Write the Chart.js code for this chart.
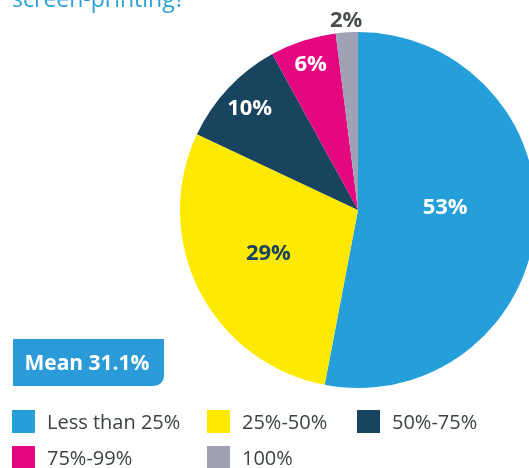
<!DOCTYPE html>
<html>
<head>
<meta charset="utf-8">
<script src="https://cdn.jsdelivr.net/npm/chart.js@4"></script>
<style>
  html, body { margin: 0; padding: 0; background: #fff; overflow: hidden; width: 529px; height: 468px; }
  #wrap { position: absolute; left: 0; top: 0; width: 560px; height: 468px; }
</style>
</head>
<body>
<div id="wrap"><canvas id="pie" width="560" height="468"></canvas></div>
<script>
'use strict';

var labels = ['Less than 25%', '25%-50%', '50%-75%', '75%-99%', '100%'];
var values = [53, 29, 10, 6, 2];
var colors = ['#249fda', '#fdea00', '#19445f', '#e4077f', '#9ea2b4'];
var title = 'screen-printing?';
var meanText = 'Mean 31.1%';

// where each percent sits on its slice: fraction of radius, angle nudge (deg), colour
var labelRadius = [0.49, 0.56, 0.835, 0.86, 1.066];
var labelNudge = [-7, 1, 0, 0, 0];
var labelColor = ['#fff', '#19445f', '#fff', '#fff', '#4b5151'];

var FONT = '"Open Sans", Lato, sans-serif';

var sliceLabels = {
  id: 'sliceLabels',
  afterDatasetsDraw: function(chart) {
    var ctx = chart.ctx;
    var arcs = chart.getDatasetMeta(0).data;
    ctx.save();
    ctx.font = 'bold 22px ' + FONT;
    ctx.textAlign = 'center';
    ctx.textBaseline = 'middle';
    arcs.forEach(function(arc, i) {
      var mid = (arc.startAngle + arc.endAngle) / 2 + labelNudge[i] * Math.PI / 180;
      var r = arc.outerRadius * labelRadius[i];
      ctx.fillStyle = labelColor[i];
      ctx.fillText(values[i] + '%', arc.x + Math.cos(mid) * r, arc.y + Math.sin(mid) * r);
    });
    ctx.restore();
  }
};

// heading, mean badge and legend grid
var decor = {
  id: 'decor',
  afterDraw: function(chart) {
    var ctx = chart.ctx;
    ctx.save();

    ctx.fillStyle = '#2a9fd9';
    ctx.font = '23px ' + FONT;
    ctx.textAlign = 'left';
    ctx.textBaseline = 'alphabetic';
    ctx.fillText(title, 12, 7);

    // badge with a rounded bottom-right corner
    ctx.fillStyle = '#2a9bd8';
    ctx.beginPath();
    ctx.roundRect(13, 339, 151, 47, [0, 0, 10, 0]);
    ctx.fill();
    ctx.fillStyle = '#fff';
    ctx.font = 'bold 21px ' + FONT;
    ctx.textAlign = 'center';
    ctx.fillText(meanText, 87, 370);

    var cols = [12, 207, 357];
    var rows = [410, 446];
    ctx.font = '20px ' + FONT;
    ctx.textAlign = 'left';
    labels.forEach(function(lab, i) {
      var x = cols[i % 3];
      var y = rows[Math.floor(i / 3)];
      ctx.fillStyle = colors[i];
      ctx.fillRect(x, y, 23, 23);
      ctx.fillStyle = '#3c4343';
      ctx.fillText(lab, x + 35, y + 19);
    });
    ctx.restore();
  }
};

new Chart(document.getElementById('pie'), {
  type: 'pie',
  data: {
    labels: labels,
    datasets: [{
      data: values,
      backgroundColor: colors,
      borderWidth: 0
    }]
  },
  options: {
    responsive: false,
    animation: false,
    layout: { padding: { left: 180, right: 24, top: 32, bottom: 80 } },
    plugins: {
      legend: { display: false },
      tooltip: { enabled: false }
    }
  },
  plugins: [sliceLabels, decor]
});
</script>
</body>
</html>
